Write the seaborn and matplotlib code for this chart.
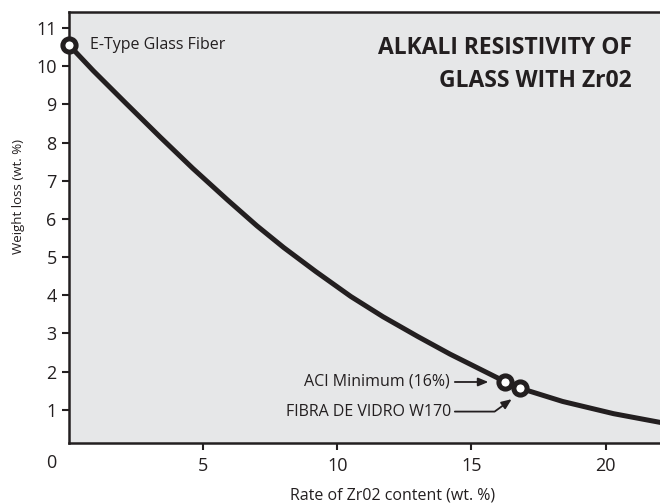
import matplotlib
matplotlib.use("Agg")
import matplotlib.pyplot as plt
import seaborn as sns
import pandas as pd

# ---- data ----
zr_content = [0.0, 0.9, 2.1, 3.4, 4.6, 5.9, 7.0, 8.0, 9.2, 10.5, 11.7, 13.0, 14.2,
              16.25, 16.8, 18.4, 20.3, 22.05]
weight_loss = [10.55, 9.88, 9.04, 8.14, 7.33, 6.50, 5.82, 5.25, 4.62, 3.97, 3.44, 2.92,
               2.46, 1.74, 1.57, 1.22, 0.90, 0.67]

point_names = ["E-Type Glass Fiber", "ACI Minimum (16%)", "FIBRA DE VIDRO W170"]
point_x = [0.0, 16.25, 16.8]
point_y = [10.55, 1.74, 1.57]

y_ticks = [1, 2, 3, 4, 5, 6, 7, 8, 9, 10, 11]
x_ticks = [5, 10, 15, 20]
x_origin_label = "0"

title_text = "ALKALI RESISTIVITY OF\nGLASS WITH Zr02"
x_label = "Rate of Zr02 content (wt. %)"
y_label = "Weight loss (wt. %)"

# ---- style ----
INK = "#231f20"
BG = "#e6e7e8"
sns.set_theme(style="white")
plt.rcParams["font.family"] = ["Open Sans", "DejaVu Sans"]
plt.rcParams["text.color"] = INK
plt.rcParams["axes.labelcolor"] = INK
plt.rcParams["xtick.color"] = INK
plt.rcParams["ytick.color"] = INK

W, H = 660, 504
fig = plt.figure(figsize=(W / 100, H / 100), dpi=100)
ax = fig.add_axes([69.2 / W, 61.3 / H, 1 - 69.2 / W, (442.7 - 12) / H])
ax.set_facecolor(BG)

curve = pd.DataFrame({"zr": zr_content, "loss": weight_loss})
sns.lineplot(data=curve, x="zr", y="loss", sort=False, ax=ax, color=INK,
             linewidth=3.6, solid_capstyle="butt", solid_joinstyle="round", zorder=3)

pts = pd.DataFrame({"zr": point_x, "loss": point_y, "name": point_names})
ax.plot(pts["zr"], pts["loss"], linestyle="none", marker="o", markersize=9.5,
        markerfacecolor="white", markeredgecolor=INK, markeredgewidth=3.6,
        zorder=5, clip_on=False)

ax.set_xlim(0, 22.03)
ax.set_ylim(0.14, 11.42)

ax.set_xticks(x_ticks)
ax.set_xticklabels([str(t) for t in x_ticks])
ax.set_yticks(y_ticks)
ax.set_yticklabels([str(t) for t in y_ticks])
ax.tick_params(axis="both", which="major", direction="out", length=5, width=1.5,
               labelsize=13, colors=INK)
ax.tick_params(axis="y", pad=4.0, left=True)
ax.tick_params(axis="x", pad=5, bottom=True)

for side in ["left", "bottom", "top"]:
    ax.spines[side].set_visible(True)
    ax.spines[side].set_color(INK)
    ax.spines[side].set_linewidth(1.8)
ax.spines["right"].set_visible(False)

# origin "0" label shared by both axes
fig.text(51 / W, 1 - 463.5 / H, x_origin_label, ha="center", va="center",
         fontsize=13, color=INK)

ax.set_xlabel(x_label, fontsize=11.5, color=INK)
ax.xaxis.label.set_va("center")
ax.xaxis.set_label_coords(392.7 / W, 1 - 495 / H, transform=fig.transFigure)
ax.set_ylabel(y_label, fontsize=9.5, color=INK)
ax.yaxis.label.set_va("center")
ax.yaxis.set_label_coords(19 / W, 1 - 196 / H, transform=fig.transFigure)

fig.text(632 / W, 1 - 64.5 / H, title_text, ha="right", va="center", ma="right",
         fontsize=16.5, fontweight="bold", color=INK, linespacing=1.48)

# point annotations
ax.annotate(point_names[0], xy=(point_x[0], point_y[0]), xytext=(21, 0),
            textcoords="offset pixels", va="center", ha="left", fontsize=11.5, color=INK)

aci_text = (14.2, 1.73)
aci_arrow = [(14.38, 1.73), (15.63, 1.73)]
ax.text(aci_text[0], aci_text[1], point_names[1], ha="right", va="center",
        fontsize=11.5, color=INK)
ax.annotate("", xy=aci_arrow[1], xytext=aci_arrow[0],
            arrowprops=dict(arrowstyle="-|>,head_length=0.6,head_width=0.25",
                            color=INK, lw=1.3, shrinkA=0, shrinkB=0, mutation_scale=10))

fib_text = (14.24, 0.955)
fib_arrow = [(14.38, 0.955), (16.5, 1.28)]
ax.text(fib_text[0], fib_text[1], point_names[2], ha="right", va="center",
        fontsize=11.5, color=INK)
ax.annotate("", xy=fib_arrow[1], xytext=fib_arrow[0],
            arrowprops=dict(arrowstyle="-|>,head_length=0.6,head_width=0.25",
                            connectionstyle="angle,angleA=0,angleB=36,rad=0",
                            color=INK, lw=1.3, shrinkA=0, shrinkB=0, mutation_scale=10))

fig.savefig("out.png", dpi=100)
